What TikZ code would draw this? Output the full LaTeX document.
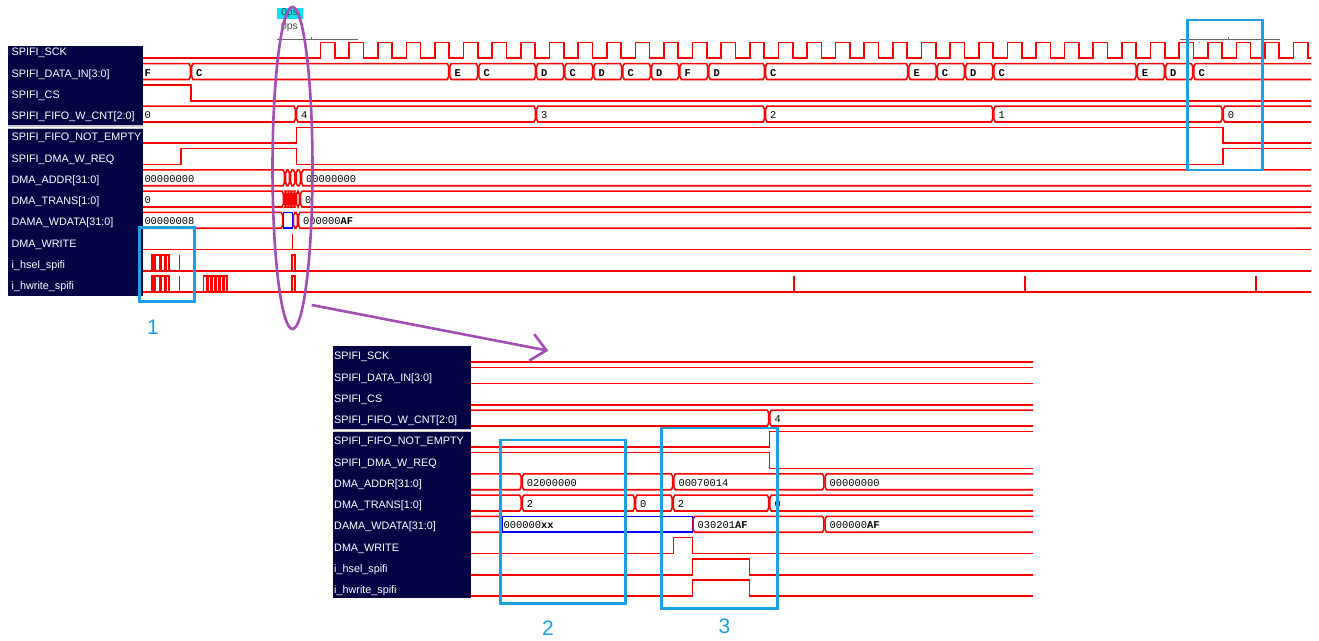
\documentclass[tikz,border=0pt]{standalone}
\usepackage{fontspec}
\setmainfont{Liberation Sans}
\newfontfamily\monofont{Liberation Mono}
\usetikzlibrary{arrows.meta}
\definecolor{wavered}{RGB}{255,0,0}
\definecolor{labnavy}{RGB}{4,4,68}
\definecolor{markblue}{RGB}{27,161,226}
\definecolor{lenspurple}{RGB}{163,78,180}
\definecolor{hlcyan}{RGB}{0,230,240}
\newcount\valcnt
\newcommand\Hi[1]{\RB+21.25*(#1)-9.6}
\newcommand\Lo[1]{\RB+21.25*(#1)+6.2}
\newcommand\bseg[4]{%
  \draw[sig] ({#2+2},{\Hi{#1}}) -- ({#3-2},{\Hi{#1}}) -- ({#3-0.6},{\Hi{#1}+3}) -- ({#3-0.6},{\Lo{#1}-3}) -- ({#3-2},{\Lo{#1}}) -- ({#2+2},{\Lo{#1}}) -- ({#2+0.6},{\Lo{#1}-3}) -- ({#2+0.6},{\Hi{#1}+3}) -- cycle;
  \if\relax\detokenize{#4}\relax\else
    \global\advance\valcnt by 1
    \node[val] (val\the\valcnt) at ({#2+5},{\RB+21.25*(#1)+2.9}) {#4};
  \fi}
\newcommand\pulse[3]{\draw[sig] (#2,{\Lo{#1}}) -- (#2,{\Hi{#1}}) -- (#3,{\Hi{#1}}) -- (#3,{\Lo{#1}});}
\newcommand\spike[2]{\draw[sig] (#2,{\Lo{#1}}) -- (#2,{\Hi{#1}});}
\newcommand\lowline[1]{\draw[sig] (130,{\Lo{#1}}) -- (1330,{\Lo{#1}});}
\begin{document}
\begin{tikzpicture}[x=1pt,y=-1pt,
  sig/.style={draw=wavered,line width=1.6pt,line join=miter},
  val/.style={anchor=base west,inner sep=0pt,font=\monofont\fontsize{10.4}{12}\selectfont,text=black},
  lab/.style={anchor=base west,inner sep=0pt,font=\fontsize{10.8}{12}\selectfont,text=white},
  markbox/.style={draw=markblue,line width=2.8pt},
  marknum/.style={text=markblue,font=\fontsize{21}{24}\selectfont,inner sep=0pt}]
\useasboundingbox (0,0) rectangle (1319,640);
\fill[white] (0,0) rectangle (1319,640);

% ---------- top panel labels
\fill[labnavy] (8,45.5) rectangle (143,296);
\fill[gray!45] (8,125.3) rectangle (143,128.5);
\draw[white,line width=0.8pt] (8,126.9) -- (143,126.9);
\foreach \t [count=\i from 0] in {SPIFI\_SCK,SPIFI\_DATA\_IN[3:0],SPIFI\_CS,SPIFI\_FIFO\_W\_CNT[2:0],SPIFI\_FIFO\_NOT\_EMPTY,SPIFI\_DMA\_W\_REQ,DMA\_ADDR[31:0],DMA\_TRANS[1:0],DAMA\_WDATA[31:0],DMA\_WRITE,i\_hsel\_spifi,i\_hwrite\_spifi}
  \node[lab] (tl\i) at (11.5,{52+21.25*\i+3.9}) {\t};

% ---------- top panel waveforms
\begin{scope}
\def\RB{52}
\clip (143,0) rectangle (1311,300);
% SCK
\draw[sig] (130,{\Lo{0}}) -- (320.5,{\Lo{0}}) \foreach \k in {0,...,34}{ -- ++(0,-15.8) -- ++(14.31,0) -- ++(0,15.8) -- ++(14.31,0)};
% DATA_IN
\bseg{1}{139.3}{191}{\textbf{F}}
\bseg{1}{191}{449.3}{\textbf{C}}
\bseg{1}{449.3}{478.3}{\textbf{E}}
\bseg{1}{478.3}{536}{\textbf{C}}
\bseg{1}{536}{564.3}{\textbf{D}}
\bseg{1}{564.3}{593.3}{\textbf{C}}
\bseg{1}{593.3}{622.3}{\textbf{D}}
\bseg{1}{622.3}{651}{\textbf{C}}
\bseg{1}{651}{679.3}{\textbf{D}}
\bseg{1}{679.3}{708.3}{\textbf{F}}
\bseg{1}{708.3}{765}{\textbf{D}}
\bseg{1}{765}{908.3}{\textbf{C}}
\bseg{1}{908.3}{936.7}{\textbf{E}}
\bseg{1}{936.7}{965}{\textbf{C}}
\bseg{1}{965}{993.3}{\textbf{D}}
\bseg{1}{993.3}{1136.7}{\textbf{C}}
\bseg{1}{1136.7}{1165}{\textbf{E}}
\bseg{1}{1165}{1193.3}{\textbf{D}}
\bseg{1}{1193.3}{1330}{\textbf{C}}
% CS
\draw[sig] (130,{\Hi{2}}) -- (191,{\Hi{2}}) -- (191,{\Lo{2}}) -- (1330,{\Lo{2}});
% W_CNT
\bseg{3}{139.3}{296}{0}
\bseg{3}{296}{536}{4}
\bseg{3}{536}{765}{3}
\bseg{3}{765}{993.3}{2}
\bseg{3}{993.3}{1222.7}{1}
\bseg{3}{1222.7}{1330}{0}
% NOT_EMPTY
\draw[sig] (130,{\Lo{4}}) -- (296.5,{\Lo{4}}) -- (296.5,{\Hi{4}}) -- (1223,{\Hi{4}}) -- (1223,{\Lo{4}}) -- (1330,{\Lo{4}});
% W_REQ
\draw[sig] (130,{\Lo{5}}) -- (180.7,{\Lo{5}}) -- (180.7,{\Hi{5}}) -- (296.5,{\Hi{5}}) -- (296.5,{\Lo{5}}) -- (1223,{\Lo{5}}) -- (1223,{\Hi{5}}) -- (1330,{\Hi{5}});
% ADDR
\bseg{6}{139.3}{285}{00000000}
\bseg{6}{285}{290}{}
\bseg{6}{290}{295.5}{}
\bseg{6}{295.5}{301}{}
\bseg{6}{301}{1330}{00000000}
% TRANS
\bseg{7}{139.3}{284}{0}
\bseg{7}{284}{287}{}
\bseg{7}{287}{290}{}
\bseg{7}{290}{293}{}
\bseg{7}{293}{296}{}
\bseg{7}{296}{300}{}
\bseg{7}{300}{1330}{0}
% WDATA
\bseg{8}{139.3}{283.3}{00000008}
\draw[blue,line width=1.5pt] (283.6,{\Hi{8}}) rectangle (292.4,{\Lo{8}});
\bseg{8}{293}{298}{}
\bseg{8}{298}{1330}{000000\textbf{AF}}
% DMA_WRITE
\lowline{9}
\spike{9}{292.3}
% hsel
\lowline{10}
\pulse{10}{151.7}{153.3}
\pulse{10}{155}{160}
\pulse{10}{161.5}{164.5}
\pulse{10}{166}{169}
\spike{10}{179.3}
\pulse{10}{291.7}{295}
% hwrite
\lowline{11}
\pulse{11}{151.7}{153.3}
\pulse{11}{155}{160}
\pulse{11}{161.5}{164.5}
\pulse{11}{166}{169}
\spike{11}{179.3}
\pulse{11}{203.3}{207}
\pulse{11}{208.5}{211}
\pulse{11}{212.5}{215}
\pulse{11}{216.5}{219}
\pulse{11}{220.5}{223}
\pulse{11}{224.5}{226.7}
\pulse{11}{291.7}{295}
\spike{11}{794}
\spike{11}{1025}
\spike{11}{1256}
\end{scope}

% time markers
\fill[hlcyan] (277,7.5) rectangle (303,18.5);
\node[inner sep=0pt,font=\fontsize{10}{11}\selectfont,text=black!75] (ps1) at (289.5,13) {0ps};
\node[inner sep=0pt,font=\fontsize{10.5}{11}\selectfont,text=black!70] (ps2) at (289.5,27) {0ps};
\draw[black!60,line width=0.8pt] (277,39.7) -- (358,39.7) (311.7,37.3) -- (311.7,39.7);
\draw[black!60,line width=0.8pt] (1180,39.7) -- (1280,39.7) (1228.3,37.3) -- (1228.3,39.7);

% ---------- bottom panel labels
\fill[labnavy] (333,346) rectangle (470.7,598.3);
\fill[gray!45] (333,428.6) rectangle (470.7,431.6);
\draw[white,line width=0.8pt] (333,430.1) -- (470.7,430.1);
\foreach \t [count=\i from 0] in {SPIFI\_SCK,SPIFI\_DATA\_IN[3:0],SPIFI\_CS,SPIFI\_FIFO\_W\_CNT[2:0],SPIFI\_FIFO\_NOT\_EMPTY,SPIFI\_DMA\_W\_REQ,DMA\_ADDR[31:0],DMA\_TRANS[1:0],DAMA\_WDATA[31:0],DMA\_WRITE,i\_hsel\_spifi,i\_hwrite\_spifi}
  \node[lab] (bl\i) at (334,{356+21.25*\i+3.9}) {\t};

% ---------- bottom panel waveforms
\begin{scope}
\def\RB{356}
\clip (470.7,340) rectangle (1033,600);
\draw[sig] (460,{\Lo{0}}) -- (1040,{\Lo{0}});
\draw[sig] (460,{\Hi{1}}) -- (1040,{\Hi{1}});
\draw[sig] (460,{\Lo{1}}) -- (1040,{\Lo{1}});
\draw[sig] (460,{\Lo{2}}) -- (1040,{\Lo{2}});
\bseg{3}{455}{769.3}{}
\bseg{3}{769.3}{1045}{4}
\draw[sig] (460,{\Lo{4}}) -- (769.3,{\Lo{4}}) -- (769.3,{\Hi{4}}) -- (1040,{\Hi{4}});
\draw[sig] (460,{\Hi{5}}) -- (769.3,{\Hi{5}}) -- (769.3,{\Lo{5}}) -- (1040,{\Lo{5}});
\bseg{6}{455}{521.7}{}
\bseg{6}{521.7}{673.3}{02000000}
\bseg{6}{673.3}{824.5}{00070014}
\bseg{6}{824.5}{1045}{00000000}
\bseg{7}{455}{521.7}{}
\bseg{7}{521.7}{635}{2}
\bseg{7}{635}{672.7}{0}
\bseg{7}{672.7}{769.3}{2}
\bseg{7}{769.3}{1045}{0}
\bseg{8}{455}{501.5}{}
\draw[blue,line width=1.5pt] (501.8,{\Hi{8}}) rectangle (692.3,{\Lo{8}});
\node[val] (xxval) at (503.5,{356+21.25*8+2.9}) {000000\textbf{xx}};
\bseg{8}{692.5}{824.5}{030201\textbf{AF}}
\bseg{8}{824.5}{1045}{000000\textbf{AF}}
\draw[sig] (460,{\Lo{9}}) -- (673.3,{\Lo{9}}) -- (673.3,{\Hi{9}}) -- (692.3,{\Hi{9}}) -- (692.3,{\Lo{9}}) -- (1040,{\Lo{9}});
\draw[sig] (460,{\Lo{10}}) -- (692.3,{\Lo{10}}) -- (692.3,{\Hi{10}}) -- (749.3,{\Hi{10}}) -- (749.3,{\Lo{10}}) -- (1040,{\Lo{10}});
\draw[sig] (460,{\Lo{11}}) -- (692.3,{\Lo{11}}) -- (692.3,{\Hi{11}}) -- (749.3,{\Hi{11}}) -- (749.3,{\Lo{11}}) -- (1040,{\Lo{11}});
\end{scope}

% ---------- annotations
\draw[markbox] (139.5,227.5) rectangle (194.8,301.8);
\draw[markbox] (1187.5,20) rectangle (1262.5,170);
\draw[markbox] (500.5,440) rectangle (625.5,603.5);
\draw[markbox] (661.5,428) rectangle (777.5,608.5);
\node[marknum] (num1) at (153,327) {1};
\node[marknum] (num2) at (548,628) {2};
\node[marknum] (num3) at (724.5,626) {3};

\draw[lenspurple,line width=2.6pt] (292.5,168) ellipse [x radius=20, y radius=161];
\coordinate (arrS) at (311.7,305);
\coordinate (arrE) at (548.3,350.7);
\draw[lenspurple,line width=2.6pt,-{Straight Barb[length=15pt,width=27pt]}] (arrS) -- (arrE);
\end{tikzpicture}
\end{document}
